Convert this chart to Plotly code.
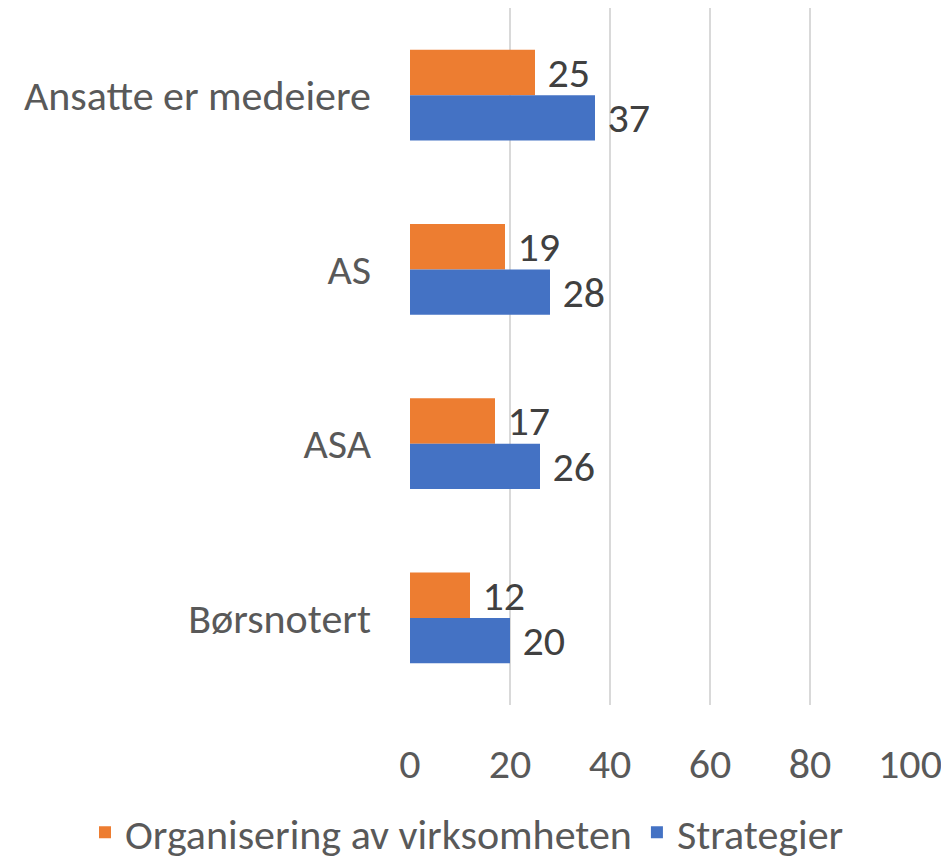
import plotly.graph_objects as go

categories = ["Ansatte er medeiere", "AS", "ASA", "Børsnotert"]
organisering = [25, 19, 17, 12]
strategier = [37, 28, 26, 20]
x_ticks = [0, 20, 40, 60, 80, 100]

FONT = "Carlito, Lato, sans-serif"
FS = 42

fig = go.Figure()
fig.add_trace(go.Bar(
    y=categories, x=organisering, orientation="h",
    name="Organisering av virksomheten",
    marker=dict(color="#ED7D31", line=dict(width=0)),
    text=organisering, texttemplate=" %{x}", textposition="outside",
    constraintext="none",
    textfont=dict(size=FS, color="#404040", family=FONT),
    cliponaxis=False,
))
fig.add_trace(go.Bar(
    y=categories, x=strategier, orientation="h",
    name="Strategier",
    marker=dict(color="#4472C4", line=dict(width=0)),
    text=strategier, texttemplate=" %{x}", textposition="outside",
    constraintext="none",
    textfont=dict(size=FS, color="#404040", family=FONT),
    cliponaxis=False,
))

fig.update_layout(
    width=941, height=851,
    barmode="group", bargap=0.48, bargroupgap=0,
    plot_bgcolor="white", paper_bgcolor="white",
    margin=dict(l=402, r=39, t=0, b=154, autoexpand=False),
    font=dict(family=FONT, size=FS, color="#595959"),
    showlegend=True,
    legend=dict(orientation="h", x=-0.65, xanchor="left",
                y=-0.183, yanchor="middle",
                font=dict(size=FS, color="#595959"),
                itemsizing="constant"),
    uniformtext=dict(mode=False),
)
fig.update_xaxes(range=[0, 100], tickvals=x_ticks, showgrid=True, gridcolor="#D9D9D9",
                 gridwidth=1.5, zeroline=False, showline=False, ticks="",
                 automargin=False,
                 ticklabelstandoff=30, tickfont=dict(size=FS, color="#595959"))
fig.update_yaxes(autorange="reversed", showgrid=False, showline=False, ticks="",
                 automargin=False,
                 ticklabelstandoff=38, tickfont=dict(size=FS, color="#595959"))

fig.write_html("out.html")
